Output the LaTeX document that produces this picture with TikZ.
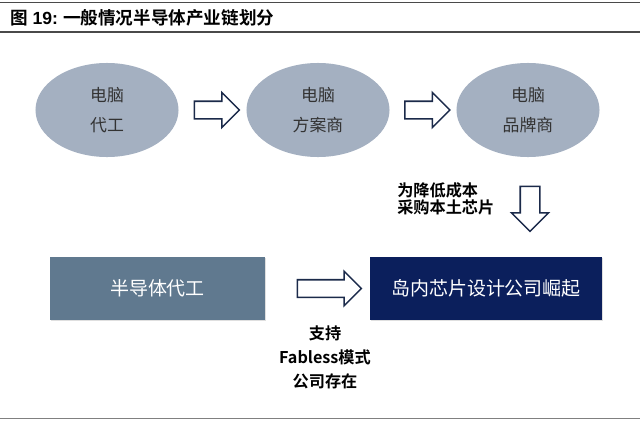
\documentclass[tikz,border=0pt]{standalone}
\usepackage{fontspec}
\setmainfont{Noto Sans CJK SC}[BoldFont={Noto Sans CJK SC Bold}]
\newfontfamily\numfont{Liberation Sans}
\usetikzlibrary{shapes.geometric,shapes.arrows,shadows,calc}

\definecolor{ovalfill}{HTML}{A4B0C1}
\definecolor{boxslate}{HTML}{60798F}
\definecolor{boxnavy}{HTML}{0B1F5C}
\definecolor{arrowline}{HTML}{1B2A4A}
\definecolor{rulegray}{HTML}{4A4A4A}

\begin{document}
\begin{tikzpicture}[x=0.025cm, y=-0.025cm]
    \tikzstyle{oval} = [ellipse, fill=ovalfill, minimum width=3.575cm, minimum height=2.35cm, inner sep=0pt, align=center, text=black!80, font=\fontsize{12}{21}\selectfont]
    \tikzstyle{hollow} = [single arrow, draw=arrowline, line width=1.1pt, fill=white, inner xsep=0pt, inner ysep=0.2cm, single arrow head extend=0.22cm]
    \tikzstyle{block} = [rectangle, minimum height=1.575cm, text=white, font=\fontsize{13.5}{16}\selectfont, drop shadow={opacity=0.25, shadow xshift=0.6pt, shadow yshift=-0.8pt}]
    \tikzstyle{note} = [inner sep=0pt, font=\bfseries\fontsize{11.5}{12}\selectfont]

    \useasboundingbox (0,0) rectangle (640,428);

    % title and rules
    \draw[rulegray, line width=0.4pt] (0,2) -- (640,2);
    \node[anchor=west, font=\bfseries\fontsize{12.5}{14}\selectfont] (title) at (6,18) {图 {\numfont 19:} 一般情况半导体产业链划分};
    \draw[rulegray, line width=1pt] (0,32) -- (640,32);
    \draw[rulegray!70, line width=0.5pt] (0,418) -- (640,418);

    % upper chain
    \node[oval] (oem) at (107,110) {电脑\\代工};
    \node[oval] (solution) at (318,110) {电脑\\方案商};
    \node[oval] (brand) at (528,110) {电脑\\品牌商};
    \node[hollow, minimum height=1.125cm] (arrA) at ($(oem.east)!0.5!(solution.west)$) {};
    \node[hollow, minimum height=1.125cm] (arrB) at ($(solution.east)!0.5!(brand.west)$) {};
    \node[hollow, rotate=-90, minimum height=1.125cm, inner ysep=0.225cm] (arrDown) at (530,204) {};
    \node[note, anchor=west, align=left] (cost) at (397,199) {为降低成本\\采购本土芯片};

    % lower chain
    \node[block, fill=boxslate, minimum width=5.375cm] (foundry) at (157.5,288.5) {半导体代工};
    \node[block, fill=boxnavy, minimum width=5.8cm] (design) at (486,288.5) {岛内芯片设计公司崛起};
    \node[hollow, minimum height=1.6cm, single arrow head extend=0.21cm] (arrC) at (325,288.5) {};
    \node[note, align=center, font=\bfseries\fontsize{11.5}{17}\selectfont] (support) at (325,357) {支持\\Fabless模式\\公司存在};
\end{tikzpicture}
\end{document}
